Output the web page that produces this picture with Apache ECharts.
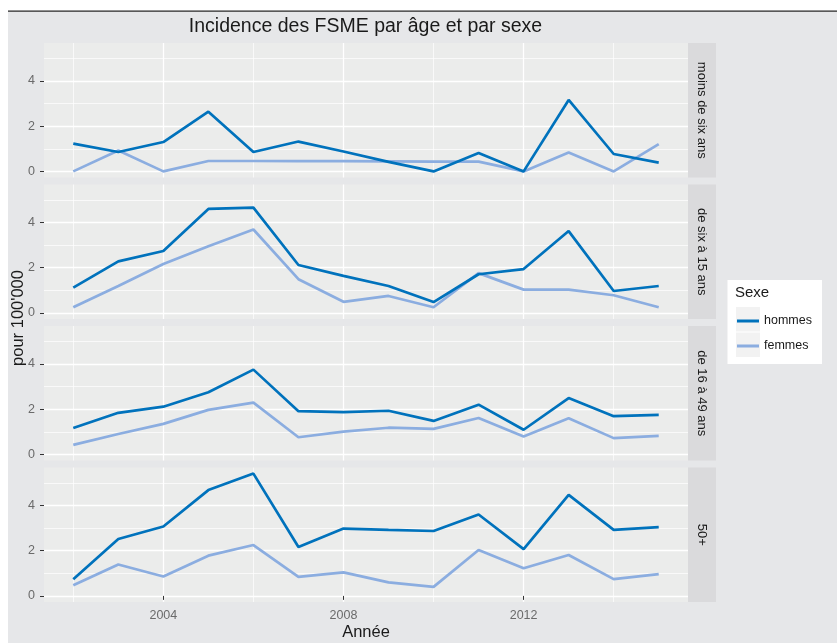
<!DOCTYPE html>
<html><head><meta charset="utf-8">
<script src="https://cdn.jsdelivr.net/npm/echarts@6/dist/echarts.min.js"></script>
<style>html,body{margin:0;padding:0;background:#fff}#c{width:837px;height:643px}</style>
</head><body><div id="c"></div>
<script>
// ---- data ----
const years = [2002,2003,2004,2005,2006,2007,2008,2009,2010,2011,2012,2013,2014,2015];
const panelLabels = ['moins de six ans','de six à 15 ans','de 16 à 49 ans','50+'];
const sexes = ['hommes','femmes'];
const hommesMoins6 = [1.23,0.86,1.30,2.64,0.86,1.32,0.88,0.42,0.00,0.81,0.00,3.16,0.77,0.39];
const femmesMoins6 = [0.00,0.92,0.00,0.46,0.46,0.45,0.45,0.44,0.43,0.43,0.00,0.84,0.00,1.21];
const hommes6a15   = [1.12,2.28,2.74,4.60,4.66,2.12,1.64,1.19,0.48,1.71,1.94,3.62,0.97,1.19];
const femmes6a15   = [0.25,1.19,2.16,2.95,3.69,1.49,0.49,0.75,0.25,1.76,1.03,1.03,0.78,0.25];
const hommes16a49  = [1.17,1.84,2.11,2.75,3.75,1.91,1.87,1.93,1.48,2.20,1.09,2.49,1.69,1.75];
const femmes16a49  = [0.42,0.90,1.35,1.97,2.29,0.76,1.01,1.18,1.13,1.61,0.79,1.60,0.72,0.82];
const hommes50plus = [0.74,2.52,3.07,4.68,5.41,2.16,2.98,2.92,2.87,3.60,2.07,4.47,2.92,3.04];
const femmes50plus = [0.47,1.39,0.86,1.78,2.25,0.84,1.04,0.60,0.40,2.03,1.22,1.81,0.74,0.96];
const xMajorTicks = [2004,2008,2012];
const xMinorTicks = [2002,2006,2010,2014];
const yMajorTicks = [0,2,4];
const yMinorTicks = [1,3,5];
const title = 'Incidence des FSME par âge et par sexe';
const xTitle = 'Année';
const yTitle = "pour 100'000";
const legendTitle = 'Sexe';

// ---- layout / style ----
const panelData = [[hommesMoins6,femmesMoins6],[hommes6a15,femmes6a15],[hommes16a49,femmes16a49],[hommes50plus,femmes50plus]];
const colors = ['#0072BC','#8BADE0'];
const FONT = "'Liberation Sans', Arial, Helvetica, sans-serif";
const L = 44, W = 644, H = 134.5;
const TOPS = [43, 184.5, 326, 467.5];
const X_MIN = 2001.35, X_MAX = 2015.65, Y_MIN = -0.27, Y_MAX = 5.68;

const grids = [], xAxes = [], yAxes = [], series = [], graphics = [];
graphics.push({type:'rect', z:-10, shape:{x:8,y:12,width:829,height:631}, style:{fill:'#e6e7e9'}, silent:true});
graphics.push({type:'rect', z:-9, shape:{x:8,y:10.5,width:829,height:1.3}, style:{fill:'#222'}, silent:true});

TOPS.forEach((top, i) => {
  grids.push({left:L, top:top, width:W, height:H, show:true, backgroundColor:'#ebeceb', borderWidth:0, containLabel:false});
  const last = i === TOPS.length - 1;
  xAxes.push({type:'value', gridIndex:i, min:X_MIN, max:X_MAX, position:'bottom',
    axisLine:{show:false},
    axisTick:{show:last, length:4, lineStyle:{color:'#333', width:1}, customValues:xMajorTicks},
    axisLabel:{show:last, margin:7, color:'#6a6a6a', fontSize:12.5, fontFamily:FONT, customValues:xMajorTicks,
      formatter:(v) => String(Math.round(v))},
    splitLine:{show:true, lineStyle:{color:'#ffffff', width:1.3}}});
  xAxes.push({type:'value', gridIndex:i, min:X_MIN, max:X_MAX, position:'top',
    axisLine:{show:false}, axisTick:{show:false, customValues:xMinorTicks}, axisLabel:{show:false, customValues:xMinorTicks},
    splitLine:{show:true, lineStyle:{color:'#ffffff', width:0.7}}});
  yAxes.push({type:'value', gridIndex:i, min:Y_MIN, max:Y_MAX, position:'left',
    axisLine:{show:false},
    axisTick:{show:true, length:4, lineStyle:{color:'#333', width:1}, customValues:yMajorTicks},
    axisLabel:{show:true, margin:9, color:'#6a6a6a', fontSize:12.5, fontFamily:FONT, customValues:yMajorTicks,
      formatter:(v) => String(Math.round(v))},
    splitLine:{show:true, lineStyle:{color:'#ffffff', width:1.3}}});
  yAxes.push({type:'value', gridIndex:i, min:Y_MIN, max:Y_MAX, position:'right',
    axisLine:{show:false}, axisTick:{show:false, customValues:yMinorTicks}, axisLabel:{show:false, customValues:yMinorTicks},
    splitLine:{show:true, lineStyle:{color:'#ffffff', width:0.7}}});
  panelData[i].forEach((vals, s) => {
    series.push({type:'line', name:sexes[s], xAxisIndex:2*i, yAxisIndex:2*i, symbol:'none', showSymbol:false,
      z: 3 - s,
      lineStyle:{color:colors[s], width:2.7}, itemStyle:{color:colors[s]},
      data: years.map((y, k) => [y, vals[k]])});
  });
  // facet strip
  graphics.push({type:'rect', z:-5, shape:{x:L+W, y:top, width:28, height:H}, style:{fill:'#dadadc'}, silent:true});
  graphics.push({type:'text', z:-4, x:L+W+14, y:top+H/2, rotation:-Math.PI/2, silent:true,
    style:{text:panelLabels[i], fill:'#1a1a1a', font:'13px '+FONT, align:'center', verticalAlign:'middle', textAlign:'center', textVerticalAlign:'middle'}});
});

// titles
graphics.push({type:'text', x:365.5, y:27, silent:true,
  style:{text:title, fill:'#1a1a1a', font:'19.5px '+FONT, align:'center', verticalAlign:'middle', textAlign:'center', textVerticalAlign:'middle'}});
graphics.push({type:'text', x:366, y:632, silent:true,
  style:{text:xTitle, fill:'#1a1a1a', font:'16.5px '+FONT, align:'center', verticalAlign:'middle', textAlign:'center', textVerticalAlign:'middle'}});
graphics.push({type:'text', x:18.5, y:318, rotation:Math.PI/2, silent:true,
  style:{text:yTitle, fill:'#1a1a1a', font:'16.5px '+FONT, align:'center', verticalAlign:'middle', textAlign:'center', textVerticalAlign:'middle'}});
// legend box
graphics.push({type:'rect', z:1, shape:{x:727.5,y:280,width:94.5,height:84}, style:{fill:'#ffffff'}, silent:true});
graphics.push({type:'rect', z:2, shape:{x:736,y:307,width:24,height:24.5}, style:{fill:'#f2f2f2'}, silent:true});
graphics.push({type:'rect', z:2, shape:{x:736,y:332.5,width:24,height:24.5}, style:{fill:'#f2f2f2'}, silent:true});
graphics.push({type:'text', z:3, x:735, y:293, silent:true,
  style:{text:legendTitle, fill:'#1a1a1a', font:'15px '+FONT, align:'left', verticalAlign:'middle', textAlign:'left', textVerticalAlign:'middle'}});

const chart = echarts.init(document.getElementById('c'), null, {renderer:'canvas'});
chart.setOption({
  backgroundColor:'#ffffff',
  animation:false,
  grid:grids, xAxis:xAxes, yAxis:yAxes, series:series,
  legend:{data:sexes, orient:'vertical', left:737, top:314, padding:0, itemWidth:22, itemHeight:3, itemGap:11, icon:'rect',
    textStyle:{color:'#1a1a1a', fontSize:12.5, fontFamily:FONT, lineHeight:14}, z:5},
  graphic:{elements:graphics}
});
</script></body></html>
